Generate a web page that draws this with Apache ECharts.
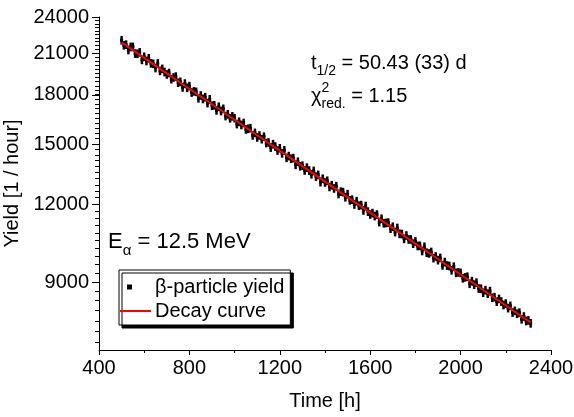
<!DOCTYPE html>
<html><head><meta charset="utf-8">
<script src="https://cdn.jsdelivr.net/npm/echarts@6/dist/echarts.min.js"></script>
<style>html,body{margin:0;padding:0;background:#fff}#c{width:574px;height:417px}</style>
</head><body><div id="c"></div>
<script>
// ---- data ----
const timeStart = 500;   // h
const timeStep = 10;     // h
const yieldValues = [
  22025,21616,21666,21242,21483,21488,20964,20949,21059,20482,
  20717,20393,20603,20221,20187,19871,20216,19664,19809,19577,
  19407,19510,19070,19191,19253,18821,18883,18494,18761,18469,
  18585,18150,18227,18196,17768,17953,17726,17837,17453,17703,
  17290,17313,16990,17218,16949,17089,16639,16744,16498,16619,
  16508,16153,16288,16098,16214,15835,15872,15907,15487,15633,
  15373,15485,15274,15416,15055,15089,14808,14992,14862,14644,
  14766,14492,14655,14256,14346,14207,14239,13890,14049,13816,
  13848,13604,13744,13598,13412,13578,13300,13383,13029,13192,
  13012,13093,12799,12880,12729,12834,12471,12576,12554,12321,
  12460,12180,12208,11993,12141,11940,11968,11733,11925,11682,
  11557,11618,11493,11554,11238,11377,11189,11203,11217,10965,
  11046,10830,10996,10761,10753,10563,10694,10538,10541,10376,
  10462,10289,10292,10100,10256,10036,10008,10061,9835,9896,
  9762,9842,9574,9692,9569,9553,9404,9529,9315,9328,
  9312,9129,9159,9180,8946,9030,8916,8981,8788,8782,
  8654,8734,8624,8704,8492,8511,8370,8457,8375,8269,
  8312,8174,8242,8041,8091,8005,8039,7843,7924,7793,7811,7727
];
const yieldRelError = 0.016;
const curveTimes  = [500,600,700,800,900,1000,1100,1200,1300,1400,1500,1600,1700,1800,1900,2000,2100,2200,2300,2310];
const curveValues = [21850,20634,19485,18401,17377,16410,15497,14634,13820,13051,12324,11638,10991,10379,9801,9256,8741,8254,7795,7750];
const yTickValues = [9000,12000,15000,18000,21000,24000];
const yMinorStep = 300;
const xMin = 400, xMax = 2400, xInterval = 400;
const yMin = 7000, yMax = 24000;

// ---- build ----
const FF = '"Liberation Sans", Arial, Helvetica, sans-serif';
const pointData = yieldValues.map((v, i) => [timeStart + i * timeStep, v]);
const curveData = curveTimes.map((t, i) => [t, curveValues[i]]);
const yAllTicks = [];
for (let v = Math.ceil(yMin / yMinorStep) * yMinorStep; v <= yMax; v += yMinorStep) yAllTicks.push(v);

const mctx = document.createElement('canvas').getContext('2d');
function tw(s, size) { mctx.font = size + 'px ' + FF; return mctx.measureText(s).width; }
function T(x, y, s, size) {
  return { type: 'text', x: x, y: y, z: 100,
    style: { text: s, font: size + 'px ' + FF, fill: '#000', verticalAlign: 'middle', align: 'left' } };
}
const g = [];
(function () {
  let x = 311, y = 63;
  g.push(T(x, y, 't', 20)); x += tw('t', 20);
  g.push(T(x, y + 8, '1/2', 14)); x += tw('1/2', 14);
  g.push(T(x, y, ' = 50.43 (33) d', 20));
  x = 311; y = 96;
  g.push(T(x, y, 'χ', 20)); x += tw('χ', 20);
  g.push(T(x, y - 8, '2', 14));
  g.push(T(x, y + 8, 'red.', 14)); x += tw('red.', 14);
  g.push(T(x, y, ' = 1.15', 20));
  x = 108; y = 242;
  g.push(T(x, y, 'E', 22)); x += tw('E', 22);
  g.push(T(x, y + 9, 'α', 15)); x += tw('α', 15);
  g.push(T(x, y, ' = 12.5 MeV', 22));
})();

function renderPoint(params, api) {
  const t = api.value(0), v = api.value(1);
  const p = api.coord([t, v]);
  const hi = api.coord([t, v * (1 + yieldRelError)]);
  const lo = api.coord([t, v * (1 - yieldRelError)]);
  const w = api.size([timeStep, 0])[0] + 0.2;
  return { type: 'group', children: [
    { type: 'rect', shape: { x: p[0] - w / 2, y: hi[1], width: w, height: lo[1] - hi[1] }, style: { fill: '#000' } },
    { type: 'rect', shape: { x: p[0] - 1.5, y: p[1] - 1.5, width: 3, height: 3 }, style: { fill: '#000' } }
  ] };
}

const axisText = { color: '#000', fontFamily: FF, fontSize: 20 };
const plain = v => String(Math.round(v));
const chart = echarts.init(document.getElementById('c'), null, { renderer: 'canvas' });
chart.setOption({
  animation: false,
  backgroundColor: '#fff',
  grid: { left: 99, right: 23, top: 17, bottom: 67, containLabel: false, outerBoundsMode: 'none' },
  xAxis: {
    type: 'value', min: xMin, max: xMax, interval: xInterval,
    name: 'Time [h]', nameLocation: 'middle', nameGap: 41,
    nameTextStyle: axisText,
    axisLine: { show: true, onZero: false, lineStyle: { color: '#000', width: 1 } },
    axisTick: { show: true, length: 5, lineStyle: { color: '#000' } },
    minorTick: { show: true, splitNumber: 2, length: 3, lineStyle: { color: '#000' } },
    axisLabel: Object.assign({ margin: 8, formatter: plain }, axisText),
    splitLine: { show: false }
  },
  yAxis: {
    type: 'log', logBase: 10, min: yMin, max: yMax,
    name: 'Yield [1 / hour]', nameLocation: 'middle', nameGap: 72,
    nameTextStyle: axisText,
    axisLine: { show: true, lineStyle: { color: '#000', width: 1 } },
    axisTick: { show: true, length: 4, customValues: yAllTicks, lineStyle: { color: '#000', width: 1 } },
    axisLabel: Object.assign({ margin: 10, customValues: yTickValues, formatter: plain }, axisText),
    splitLine: { show: false }
  },
  legend: {
    orient: 'vertical', left: 119, top: 270,
    data: [
      { name: 'β-particle yield', icon: 'path://M0,0L31,0Z M7,4.5h5v5h-5z M0,14L31,14Z' },
      { name: 'Decay curve', icon: 'path://M0,6h31v2h-31z' }
    ],
    itemWidth: 31, itemHeight: 14, itemGap: 4,
    padding: [7, 6, 4, 1],
    backgroundColor: '#fff', borderColor: '#000', borderWidth: 1, borderRadius: 0,
    shadowColor: '#000', shadowOffsetX: 3, shadowOffsetY: 3, shadowBlur: 0.01,
    textStyle: { color: '#000', fontFamily: FF, fontSize: 20, padding: [0, 0, 0, -1] },
    selectedMode: false
  },
  series: [{
    name: 'β-particle yield', type: 'custom', renderItem: renderPoint,
    data: pointData, itemStyle: { color: '#000' }, clip: true, z: 2
  }, {
    name: 'Decay curve', type: 'line', data: curveData, symbol: 'none',
    lineStyle: { color: '#ff0000', width: 2 }, itemStyle: { color: '#ff0000' }, z: 3
  }],
  graphic: g
});

// longer major ticks on the log y axis, positioned through the axis scale
const axisX = Math.round(chart.convertToPixel({ xAxisIndex: 0 }, xMin));
const majorG = yTickValues.map(v => {
  const py = Math.round(chart.convertToPixel({ yAxisIndex: 0 }, v)) + 0.5;
  return { type: 'line', z: 100, silent: true,
    shape: { x1: axisX - 7, y1: py, x2: axisX, y2: py },
    style: { stroke: '#000', lineWidth: 1 } };
});
chart.setOption({ graphic: g.concat(majorG) });
</script></body></html>
